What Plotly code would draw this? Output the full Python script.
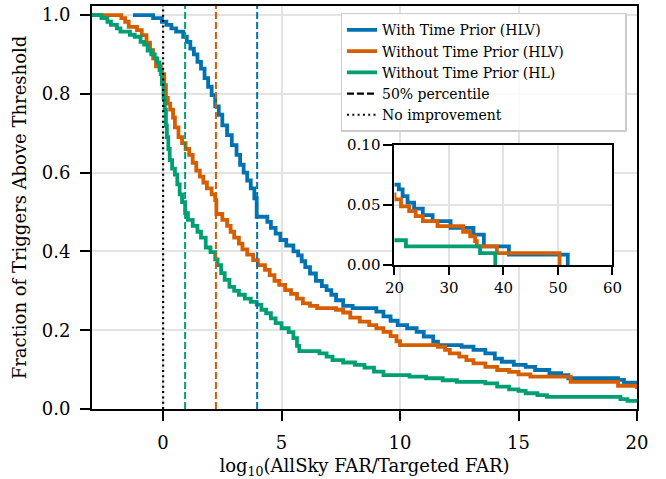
import plotly.graph_objects as go

# Survival curves: each x is a step location in log10(AllSky FAR / Targeted FAR),
# each y is the fraction of triggers still above threshold after that step.
with_prior_hlv_x = [-1.27, -0.42, -0.05, 0.14, 0.35, 0.55, 0.85, 1.0, 1.15, 1.3, 1.45, 1.6,
                    1.75, 1.9, 2.05, 2.2, 2.35, 2.5, 2.7, 2.9, 3.1, 3.25, 3.4, 3.55, 3.7,
                    3.85, 3.95, 4.4, 4.55, 4.75, 4.95, 5.2, 5.5, 5.7, 5.85, 6.0, 6.2, 6.45,
                    6.7, 6.9, 7.1, 7.3, 7.6, 8.0, 9.0, 9.3, 9.6, 9.9, 10.3, 10.7, 11.0, 11.4,
                    11.6, 12.6, 13.1, 13.6, 14.0, 14.3, 14.8, 15.3, 15.7, 16.3, 16.8, 17.1,
                    19.2, 19.45, 20.8, 21.5, 22.4, 23.6, 25.2, 27.0, 30.3, 34.5, 36.4, 41.0,
                    51.8]
with_prior_hlv_y = [1.000, 0.992, 0.983, 0.975, 0.966, 0.958, 0.945, 0.932, 0.915, 0.900,
                    0.881, 0.864, 0.840, 0.818, 0.797, 0.768, 0.747, 0.720, 0.695, 0.670,
                    0.645, 0.620, 0.600, 0.580, 0.560, 0.535, 0.488, 0.475, 0.460, 0.445,
                    0.429, 0.415, 0.400, 0.390, 0.375, 0.360, 0.344, 0.325, 0.312, 0.302,
                    0.290, 0.276, 0.262, 0.256, 0.247, 0.235, 0.224, 0.213, 0.205, 0.196,
                    0.184, 0.171, 0.162, 0.158, 0.150, 0.141, 0.128, 0.120, 0.112, 0.107,
                    0.099, 0.091, 0.086, 0.078, 0.074, 0.067, 0.063, 0.0575, 0.052, 0.047,
                    0.0416, 0.0366, 0.031, 0.0254, 0.0156, 0.0087, 0.0]

no_prior_hlv_x = [-3.0, -1.76, -1.6, -1.45, -1.1, -0.9, -0.7, -0.55, -0.42, -0.3, -0.1, 0.05,
                  0.12, 0.2, 0.3, 0.42, 0.5, 0.65, 0.8, 0.95, 1.1, 1.25, 1.4, 1.55, 1.7, 1.85,
                  2.05, 2.2, 2.25, 2.5, 2.7, 2.85, 3.0, 3.2, 3.35, 3.55, 3.8, 4.0, 4.3, 4.5,
                  4.7, 4.9, 5.15, 5.4, 5.65, 5.9, 6.2, 6.5, 7.3, 7.6, 7.9, 8.3, 8.7, 9.0, 9.3,
                  9.6, 9.85, 10.0, 11.6, 11.9, 12.1, 12.5, 12.8, 13.1, 13.6, 14.1, 14.6, 15.0,
                  15.5, 17.2, 19.2, 20.0, 21.2, 22.7, 23.9, 25.2, 27.9, 32.6, 33.9, 34.8,
                  35.1, 38.8, 50.3]
no_prior_hlv_y = [1.000, 0.992, 0.983, 0.970, 0.962, 0.949, 0.930, 0.911, 0.890, 0.870,
                  0.850, 0.822, 0.790, 0.775, 0.760, 0.740, 0.715, 0.690, 0.675, 0.660,
                  0.645, 0.625, 0.605, 0.590, 0.575, 0.560, 0.545, 0.530, 0.495, 0.480,
                  0.465, 0.450, 0.435, 0.420, 0.405, 0.392, 0.378, 0.365, 0.353, 0.340,
                  0.325, 0.315, 0.302, 0.292, 0.280, 0.268, 0.262, 0.256, 0.252, 0.245,
                  0.232, 0.222, 0.213, 0.205, 0.196, 0.185, 0.172, 0.162, 0.158, 0.150,
                  0.141, 0.133, 0.124, 0.116, 0.107, 0.099, 0.094, 0.088, 0.082, 0.069,
                  0.059, 0.0547, 0.049, 0.045, 0.0408, 0.0366, 0.0324, 0.0277, 0.024, 0.020,
                  0.0156, 0.010, 0.0]

no_prior_hl_x = [-3.0, -2.6, -2.35, -2.2, -1.95, -1.8, -1.4, -1.2, -0.95, -0.8, -0.65, -0.5,
                 -0.35, -0.25, -0.15, -0.05, 0.02, 0.07, 0.12, 0.16, 0.22, 0.28, 0.38, 0.5,
                 0.6, 0.7, 0.8, 0.93, 1.05, 1.25, 1.45, 1.6, 1.8, 2.0, 2.2, 2.3, 2.45, 2.6,
                 2.8, 3.0, 3.2, 3.45, 3.7, 3.95, 4.15, 4.35, 4.55, 4.75, 5.0, 5.3, 5.5, 5.65,
                 5.75, 6.6, 6.9, 7.15, 7.6, 8.1, 8.5, 8.9, 9.3, 10.4, 11.1, 11.8, 12.4, 13.6,
                 14.1, 14.6, 15.0, 15.3, 15.8, 16.2, 19.3, 19.6, 22.1, 35.7, 38.5]
no_prior_hl_y = [1.000, 0.992, 0.983, 0.975, 0.966, 0.958, 0.950, 0.945, 0.932, 0.925,
                 0.910, 0.900, 0.890, 0.880, 0.860, 0.825, 0.790, 0.760, 0.720, 0.690,
                 0.660, 0.632, 0.610, 0.595, 0.570, 0.545, 0.525, 0.497, 0.480, 0.465,
                 0.450, 0.435, 0.410, 0.398, 0.380, 0.365, 0.345, 0.328, 0.310, 0.300,
                 0.290, 0.280, 0.272, 0.265, 0.252, 0.243, 0.230, 0.218, 0.205, 0.195,
                 0.180, 0.160, 0.147, 0.141, 0.133, 0.124, 0.118, 0.112, 0.105, 0.095,
                 0.086, 0.082, 0.078, 0.073, 0.069, 0.065, 0.057, 0.050, 0.046, 0.040,
                 0.035, 0.031, 0.025, 0.0207, 0.0156, 0.010, 0.0]

series_names = ["With Time Prior (HLV)", "Without Time Prior (HLV)", "Without Time Prior (HL)"]
series_colors = ["#0072B2", "#D55E00", "#009E73"]
series_x = [with_prior_hlv_x, no_prior_hlv_x, no_prior_hl_x]
series_y = [with_prior_hlv_y, no_prior_hlv_y, no_prior_hl_y]

# 50% percentile of each distribution, and the no-improvement reference
median_values = [3.97, 2.23, 0.93]
no_improvement = 0.0

main_x_ticks = [0, 5, 10, 15, 20]
main_y_ticks = [0.0, 0.2, 0.4, 0.6, 0.8, 1.0]
inset_x_ticks = [20, 30, 40, 50, 60]
inset_y_ticks = [0.00, 0.05, 0.10]

FONT = "DejaVu Serif"
GRID = "#e3e3e3"
DASHED = "7px,3px"
DOTTED = "2px,3.3px"

fig = go.Figure()

for name, color, xs, ys in zip(series_names, series_colors, series_x, series_y):
    fig.add_trace(go.Scatter(x=xs, y=ys, mode="lines", name=name,
                             line=dict(color=color, width=3.8, shape="hv")))

# legend-only entries for the line styles
fig.add_trace(go.Scatter(x=[None], y=[None], mode="lines", name="50% percentile",
                         line=dict(color="black", width=2.2, dash=DASHED)))
fig.add_trace(go.Scatter(x=[None], y=[None], mode="lines", name="No improvement",
                         line=dict(color="black", width=2.2, dash=DOTTED)))

# tail of the distributions in the inset
for name, color, xs, ys in zip(series_names, series_colors, series_x, series_y):
    fig.add_trace(go.Scatter(x=xs, y=ys, mode="lines", name=name, showlegend=False,
                             xaxis="x2", yaxis="y2",
                             line=dict(color=color, width=3.8, shape="hv")))

for m, color in zip(median_values, series_colors):
    fig.add_vline(x=m, line=dict(color=color, width=2, dash=DASHED))
fig.add_vline(x=no_improvement, line=dict(color="black", width=2.2, dash=DOTTED))

axis_common = dict(showline=True, linecolor="black", linewidth=2, mirror=True,
                   ticks="outside", tickcolor="black", tickwidth=2, automargin=False,
                   showgrid=True, gridcolor=GRID, gridwidth=1.5, zeroline=False)

fig.update_layout(
    width=666, height=479,
    margin=dict(l=92, r=29, t=6, b=70),
    paper_bgcolor="white", plot_bgcolor="white",
    font=dict(family=FONT, color="black", size=18),
    showlegend=True,
    legend=dict(x=0.456, y=0.983, xanchor="left", yanchor="top", orientation="h",
                bgcolor="rgba(255,255,255,0.85)", bordercolor="#cccccc", borderwidth=1.5,
                font=dict(family=FONT, size=14), itemwidth=30, tracegroupgap=0,
                entrywidth=238, entrywidthmode="pixels"),
    xaxis=dict(range=[-3, 20], tickvals=main_x_ticks, ticklen=10,
               tickfont=dict(size=18), ticklabelstandoff=6,
               title=dict(text="log<sub>10</sub>(AllSky FAR/Targeted FAR)",
                          font=dict(size=18), standoff=10),
               **axis_common),
    yaxis=dict(range=[0, 1.023], tickvals=main_y_ticks, tickformat=".1f", ticklen=10,
               tickfont=dict(size=18), ticklabelstandoff=6,
               title=dict(text="Fraction of Triggers Above Threshold",
                          font=dict(size=18), standoff=10),
               **axis_common),
    xaxis2=dict(domain=[0.555, 0.955], anchor="y2", range=[20, 60],
                tickvals=inset_x_ticks, ticklen=8, tickfont=dict(size=15),
                **axis_common),
    yaxis2=dict(domain=[0.357, 0.655], anchor="x2", range=[0, 0.1],
                tickvals=inset_y_ticks, tickformat=".2f", ticklen=9,
                tickfont=dict(size=15),
                **axis_common),
)

fig.write_html("out.html")
